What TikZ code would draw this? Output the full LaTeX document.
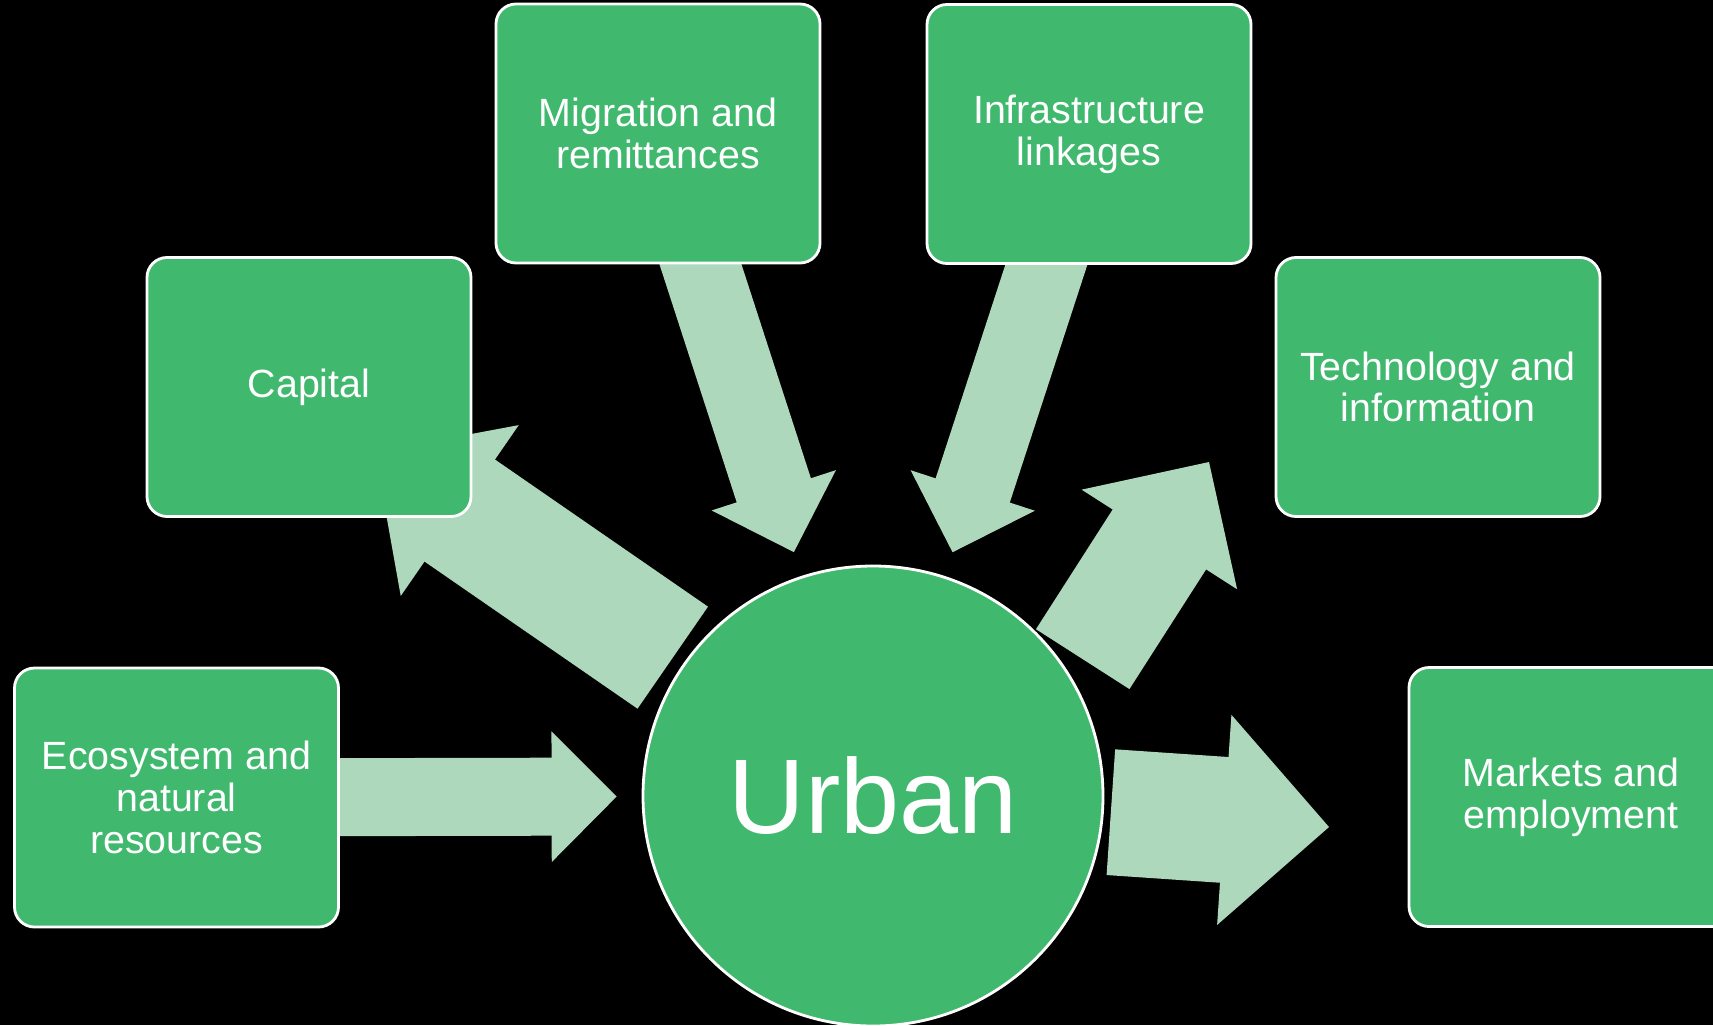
\documentclass[tikz,border=0pt]{standalone}
\usepackage{fontspec}
\setmainfont{Liberation Sans}
\usepackage{tikz}
\usetikzlibrary{arrows.meta,backgrounds}

\definecolor{boxgreen}{RGB}{64,185,110}
\definecolor{flowgreen}{RGB}{174,216,187}

\tikzset{
	factor/.style={rectangle, rounded corners=0.2cm, draw=white, line width=0.8pt,
		fill=boxgreen, text=white, align=center,
		minimum width=3.24cm, minimum height=2.59cm,
		font=\fontsize{11.2}{11.9}\selectfont},
	hub/.style={circle, draw=white, line width=0.8pt, fill=boxgreen, text=white,
		minimum size=4.6cm, inner sep=0pt, font=\fontsize{30.2}{32}\selectfont},
	flow/.style n args={3}{line width=#1,
		-{Triangle[width=#2, length=#3, line width=1pt]}}
}

\begin{document}
\begin{tikzpicture}
		\useasboundingbox (0,0) rectangle (17.13,-10.25);
		
		\begin{scope}[every node/.style={factor}]
			\node (eco) at (1.765,-7.975) {Ecosystem and\\natural\\resources};
			\node (capital) at (3.09,-3.87) {Capital};
			\node (migr) at (6.58,-1.335) {Migration and\\remittances};
			\node (infra) at (10.89,-1.34) {Infrastructure\\linkages};
			\node (tech) at (14.38,-3.87) {Technology and\\information};
			\node (markets) at (15.71,-7.97) {Markets and\\employment};
		\end{scope}
		
		\node[hub] (urban) at (8.73,-7.96) {Urban};
		
		% tips that stop short of a box
		\coordinate (capTip) at (3.75,-4.52);
		\coordinate (techTip) at (12.09,-4.62);
		\coordinate (mktTip) at (13.29,-8.27);
		
		\begin{scope}[on background layer,
					  every edge/.style={draw=flowgreen}]
			\fill[black] (0,0) rectangle (17.13,-10.25);
			
			\path (eco) edge [flow={0.78cm}{1.3cm}{0.65cm}, shorten >=0.25cm] (urban);
			\path (migr.center) edge [flow={0.78cm}{1.3cm}{0.65cm}, shorten >=0.25cm] (urban);
			\path (infra.center) edge [flow={0.78cm}{1.3cm}{0.65cm}, shorten >=0.25cm] (urban);
			\path (urban) edge [flow={1.24cm}{2.07cm}{1.03cm}, shorten <=0.12cm] (capTip);
			\path (urban.31) edge [flow={1.11cm}{1.84cm}{0.92cm}, shorten <=0.21cm] (techTip);
			\path (urban) edge [flow={1.26cm}{2.1cm}{1.05cm}, shorten <=0.07cm] (mktTip);
		\end{scope}
\end{tikzpicture}
\end{document}
